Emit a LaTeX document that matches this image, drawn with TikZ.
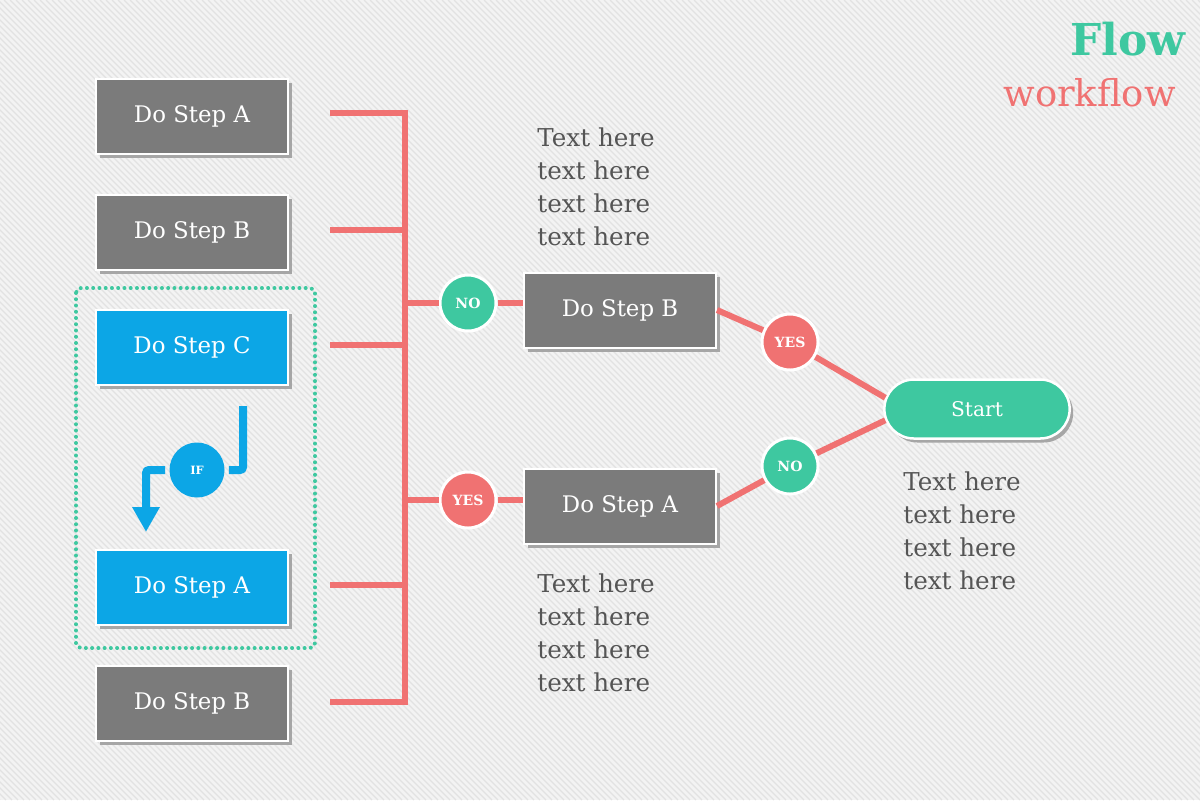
\documentclass[tikz,border=0pt]{standalone}
\usepackage{fontspec}
\setmainfont{DejaVu Serif}
\usepackage{tikz}
\usetikzlibrary{shadows,arrows.meta,shapes.misc}
\definecolor{stepgray}{RGB}{123,123,123}
\definecolor{stepblue}{RGB}{12,166,230}
\definecolor{flowteal}{RGB}{62,200,160}
\definecolor{flowred}{RGB}{240,114,114}
\definecolor{notegray}{RGB}{85,85,85}
\definecolor{bgcolor}{RGB}{243,243,243}
\definecolor{bgstripe}{RGB}{226,226,226}
\def\boxw{38.4mm}
\def\boxh{15mm}

\begin{document}
\begin{tikzpicture}[x=0.2mm,y=-0.2mm,line join=miter]
        \tikzstyle{stepbox}=[rectangle,draw=white,line width=0.4mm,minimum width=\boxw,minimum height=\boxh,text=white,font=\fontsize{13}{15}\selectfont,drop shadow={shadow xshift=0.7mm,shadow yshift=-0.8mm,fill=black!35,opacity=1}]
        \tikzstyle{answer}=[circle,draw=white,line width=0.6mm,minimum size=11.2mm,inner sep=0pt,text=white,font=\bfseries\fontsize{8}{9}\selectfont]
        \tikzstyle{yes answer}=[answer,fill=flowred]
        \tikzstyle{no answer}=[answer,fill=flowteal]
        \tikzstyle{startbox}=[rounded rectangle,fill=flowteal,draw=white,line width=0.5mm,minimum width=39.4mm,minimum height=11.8mm,text=white,font=\fontsize{11.5}{14}\selectfont,drop shadow={shadow xshift=0.7mm,shadow yshift=-0.8mm,fill=black!35,opacity=1}]
        \tikzstyle{wire}=[draw=flowred,line width=1.2mm]
        \tikzstyle{ifarrow}=[draw=stepblue,line width=1.6mm,rounded corners=0.6mm]
        \tikzstyle{note}=[anchor=north west,inner sep=0pt,align=left,text=notegray,font=\fontsize{14}{18.8}\selectfont]

        % Background with thin stripes
        \useasboundingbox (0,0) rectangle (1200,800);
        \fill[bgcolor] (0,0) rectangle (1200,800);
        \begin{scope}
            \clip (0,0) rectangle (1200,800);
            \foreach \i in {-800,-794,...,1200}
            \draw[bgstripe,line width=0.25mm] (\i,0) -- (\i+800,800);
        \end{scope}

        % Draw the step boxes on the left
        \foreach \name / \y / \col / \txt in {1/116/gray/A,2/232/gray/B,3/347/blue/C,4/587/blue/A,5/703/gray/B}
        \node[stepbox,fill=step\col] (L-\name) at (192,\y) {Do Step \txt};

        % Group frame round the blue steps
        \draw[flowteal,line width=0.8mm,line cap=round,dash pattern=on 0pt off 1.25mm,rounded corners=1mm] (76,288) rectangle (315,648);

        % The IF turn between the blue steps
        \node[circle,fill=stepblue,minimum size=11mm,inner sep=0pt,text=white,font=\bfseries\fontsize{6.5}{8}\selectfont] (if) at (197,470) {IF};
        \coordinate (if-in) at (243,406);
        \coordinate (if-out) at (146,532);
        \draw[ifarrow,shorten >=0.8mm] (if-in) |- (if);
        \draw[ifarrow,shorten <=0.8mm,-{Triangle[width=5.2mm,length=5mm]}] (if) -| (if-out);

        % The bracket joining the left steps
        \foreach \name / \y in {1/113,2/230,3/345,4/585,5/702} {
            \coordinate (S-\name) at (330,\y);
            \coordinate (J-\name) at (405,\y);
        }
        \draw[wire] (S-1) -- (J-1) -- (J-5) -- (S-5);
        \foreach \name in {2,3,4}
        \draw[wire] (S-\name) -- (J-\name);
        \coordinate (J-no) at (405,303);
        \coordinate (J-yes) at (405,500);

        % Middle answers and steps
        \node[no answer] (no-1) at (468,303) {NO};
        \node[yes answer] (yes-1) at (468,500) {YES};
        \node[stepbox,fill=stepgray] (M-B) at (620,310) {Do Step B};
        \node[stepbox,fill=stepgray] (M-A) at (620,506) {Do Step A};
        \draw[wire] (J-no) -- (no-1) -- (no-1 -| M-B.west);
        \draw[wire] (J-yes) -- (yes-1) -- (yes-1 -| M-A.west);

        % Right answers and the start
        \node[yes answer] (yes-2) at (790,342) {YES};
        \node[no answer] (no-2) at (790,466) {NO};
        \node[startbox] (start) at (977,409) {Start};
        \draw[wire] (M-B.east) -- (yes-2) -- (start.173);
        \draw[wire] (M-A.east) -- (no-2) -- (start.187);

        % Notes
        \node[note] (note-1) at (537,127) {Text here\\text here\\text here\\text here};
        \node[note] (note-2) at (537,573) {Text here\\text here\\text here\\text here};
        \node[note] (note-3) at (903,471) {Text here\\text here\\text here\\text here};

        % Title
        \node[anchor=base east,inner sep=0pt,text=flowteal,font=\bfseries\fontsize{25}{30}\selectfont] (title) at (1186,55) {Flow};
        \node[anchor=base east,inner sep=0pt,text=flowred,font=\fontsize{21}{25}\selectfont] (subtitle) at (1176,106) {workflow};
    \end{tikzpicture}
\end{document}
